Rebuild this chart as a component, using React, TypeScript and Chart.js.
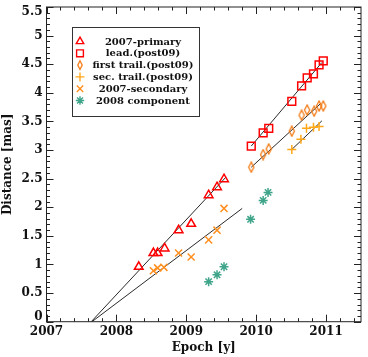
import React, { useEffect, useRef } from 'react';
import { Chart, registerables } from 'chart.js';
import { drawPoint } from 'chart.js/helpers';

Chart.register(...registerables);

const FONT = '"DejaVu Serif", serif';

// ---- data ----
const primaryEpoch = [2008.32, 2008.53, 2008.59, 2008.69, 2008.89, 2009.07, 2009.32, 2009.44, 2009.54];
const primaryDist = [0.96, 1.2, 1.2, 1.28, 1.6, 1.71, 2.21, 2.35, 2.49];

const leadEpoch = [2009.93, 2010.1, 2010.18, 2010.51, 2010.65, 2010.73, 2010.82, 2010.9, 2010.96];
const leadDist = [3.07, 3.3, 3.38, 3.85, 4.12, 4.26, 4.33, 4.49, 4.56];

const firstTrailEpoch = [2009.93, 2010.1, 2010.18, 2010.51, 2010.65, 2010.73, 2010.83, 2010.9, 2010.96];
const firstTrailDist = [2.7, 2.92, 3.02, 3.33, 3.61, 3.7, 3.68, 3.77, 3.77];

const secTrailEpoch = [2010.51, 2010.64, 2010.72, 2010.82, 2010.9];
const secTrailDist = [3.01, 3.19, 3.38, 3.4, 3.41];

const secondaryEpoch = [2008.53, 2008.59, 2008.68, 2008.89, 2009.07, 2009.32, 2009.44, 2009.54];
const secondaryDist = [0.89, 0.94, 0.95, 1.2, 1.13, 1.43, 1.6, 1.98];

const comp2008Epoch = [2009.32, 2009.44, 2009.54, 2009.92, 2010.1, 2010.17];
const comp2008Dist = [0.7, 0.82, 0.96, 1.79, 2.12, 2.26];

// linear fits (end points)
const fitPrimaryEpoch = [2007.64, 2009.57];
const fitPrimaryDist = [0, 2.53];
const fitSecondaryEpoch = [2007.65, 2009.8];
const fitSecondaryDist = [0, 1.98];
const fitLeadEpoch = [2009.93, 2010.94];
const fitLeadDist = [3.07, 4.53];
const fitFirstEpoch = [2009.93, 2010.92];
const fitFirstDist = [2.7, 3.81];
const fitSecEpoch = [2010.51, 2010.94];
const fitSecDist = [3.01, 3.51];

const xTickValues = [2007, 2008, 2009, 2010, 2011];
const yTickValues = [0, 0.5, 1, 1.5, 2, 2.5, 3, 3.5, 4, 4.5, 5, 5.5];

const seriesLabels = [
  '2007-primary',
  'lead.(post09)',
  'first trail.(post09)',
  'sec. trail.(post09)',
  '2007-secondary',
  '2008 component',
];

const RED = '#ff0000';
const ORANGE_D = '#f37a13';
const ORANGE_P = '#ffa71a';
const ORANGE_X = '#ff8f1f';
const GREEN = '#3fa58a';
const FIT = '#2a2a2a';

const pts = (xs: number[], ys: number[]) => xs.map((v, i) => ({ x: v, y: ys[i] }));

function makeDiamond(scale: number): HTMLCanvasElement {
  const c = document.createElement('canvas');
  c.width = 8;
  c.height = 12;
  const g = c.getContext('2d')!;
  g.strokeStyle = ORANGE_D;
  g.lineWidth = 1.3;
  g.beginPath();
  g.moveTo(4, 6 - 5 * scale);
  g.lineTo(4 + 2.6 * scale, 6);
  g.lineTo(4, 6 + 5 * scale);
  g.lineTo(4 - 2.6 * scale, 6);
  g.closePath();
  g.stroke();
  return c;
}

export default function App() {
  const ref = useRef<HTMLCanvasElement | null>(null);

  useEffect(() => {
    if (!ref.current) return;
    const diamond = makeDiamond(1);
    const diamondSmall = makeDiamond(0.85);

    const markerDefs = [
      { style: 'triangle', color: RED, radius: 5, legendStyle: 'triangle', legendRadius: 4.3 },
      { style: 'rect', color: RED, radius: 5.5, legendStyle: 'rect', legendRadius: 4.8 },
      { style: diamond, color: ORANGE_D, radius: 5, legendStyle: diamondSmall, legendRadius: 4.5 },
      { style: 'cross', color: ORANGE_P, radius: 4.5, legendStyle: 'cross', legendRadius: 4.5 },
      { style: 'crossRot', color: ORANGE_X, radius: 5, legendStyle: 'crossRot', legendRadius: 4.5 },
      { style: 'star', color: GREEN, radius: 4.5, legendStyle: 'star', legendRadius: 4.2 },
    ];
    const seriesData = [
      pts(primaryEpoch, primaryDist),
      pts(leadEpoch, leadDist),
      pts(firstTrailEpoch, firstTrailDist),
      pts(secTrailEpoch, secTrailDist),
      pts(secondaryEpoch, secondaryDist),
      pts(comp2008Epoch, comp2008Dist),
    ];

    const markerSets = seriesLabels.map((label, i) => ({
      label,
      data: seriesData[i],
      pointStyle: markerDefs[i].style as any,
      pointRadius: markerDefs[i].radius,
      pointBorderColor: markerDefs[i].color,
      pointBackgroundColor: 'rgba(0,0,0,0)',
      pointBorderWidth: 1.5,
      borderColor: markerDefs[i].color,
      showLine: false,
      order: 1,
    }));

    const fits = [
      pts(fitPrimaryEpoch, fitPrimaryDist),
      pts(fitSecondaryEpoch, fitSecondaryDist),
      pts(fitLeadEpoch, fitLeadDist),
      pts(fitFirstEpoch, fitFirstDist),
      pts(fitSecEpoch, fitSecDist),
    ].map((d, i) => ({
      label: 'fit' + i,
      data: d,
      showLine: true,
      borderColor: FIT,
      borderWidth: 1,
      pointRadius: 0,
      order: 2,
    }));

    const framePlugin = {
      id: 'frame',
      afterDraw(chart: any) {
        const { ctx, chartArea } = chart;
        const { left, right, top, bottom } = chartArea;
        const xs = chart.scales.x;
        const ys = chart.scales.y;
        ctx.save();
        ctx.strokeStyle = '#222';
        ctx.lineWidth = 1;
        ctx.strokeRect(left, top, right - left, bottom - top);
        ctx.beginPath();
        for (let i = 0; i <= 22; i++) {
          const v = 2007 + i * 0.2;
          const px = Math.round(xs.getPixelForValue(v)) + 0.5;
          const len = i % 5 === 0 ? 7 : 3.5;
          ctx.moveTo(px, bottom);
          ctx.lineTo(px, bottom - len);
          ctx.moveTo(px, top);
          ctx.lineTo(px, top + len);
        }
        for (let i = 0; i <= 55; i++) {
          const v = i * 0.1;
          const py = Math.round(ys.getPixelForValue(v)) + 0.5;
          const len = i % 5 === 0 ? 7 : 3.5;
          ctx.moveTo(left, py);
          ctx.lineTo(left + len, py);
          ctx.moveTo(right, py);
          ctx.lineTo(right - len, py);
        }
        ctx.stroke();

        // tick labels
        ctx.fillStyle = '#111';
        ctx.font = 'bold 12px ' + FONT;
        ctx.textBaseline = 'middle';
        ctx.textAlign = 'center';
        xTickValues.forEach((v) => {
          ctx.fillText(String(v), xs.getPixelForValue(v), 331.7);
        });
        ctx.textAlign = 'right';
        const h = 10;
        yTickValues.forEach((v) => {
          let py = ys.getPixelForValue(v);
          py = Math.max(top + h / 2, Math.min(bottom - h / 2, py));
          ctx.fillText(String(v), 42.5, py);
        });

        // legend
        const lx = 72.5, ly = 27.5, lw = 127, lh = 89;
        ctx.strokeStyle = '#333';
        ctx.lineWidth = 1;
        ctx.strokeRect(lx, ly, lw, lh);
        ctx.font = 'bold 10px ' + FONT;
        ctx.textAlign = 'center';
        seriesLabels.forEach((label, i) => {
          const y = 41.5 + i * 11.8;
          const m = markerDefs[i];
          ctx.save();
          ctx.strokeStyle = m.color;
          ctx.fillStyle = 'rgba(0,0,0,0)';
          ctx.lineWidth = 1.4;
          drawPoint(ctx, { pointStyle: m.legendStyle as any, radius: m.legendRadius, rotation: 0, borderWidth: 1.4 }, 80, y);
          ctx.restore();
          ctx.fillStyle = '#111';
          ctx.fillText(label, 143, y + 0.5);
        });
        ctx.restore();
      },
    };

    const chart = new Chart(ref.current, {
      type: 'scatter',
      data: { datasets: [...markerSets, ...fits] as any },
      options: {
        animation: false,
        responsive: false,
        devicePixelRatio: 1,
        layout: { padding: { top: 3, right: 1.5, bottom: 0, left: 0 } },
        plugins: { legend: { display: false }, tooltip: { enabled: false } },
        scales: {
          x: {
            type: 'linear',
            min: 2007,
            max: 2011.5,
            grid: { display: false, drawTicks: false },
            border: { display: false },
            ticks: { display: false },
            title: {
              display: true,
              text: 'Epoch [y]',
              color: '#111',
              font: { family: FONT, size: 12, weight: 'bold' },
              padding: { top: 0, bottom: 1.5 },
            },
            afterFit: (s: any) => {
              s.height = 35.3;
            },
          },
          y: {
            type: 'linear',
            min: 0,
            max: 5.5,
            grid: { display: false, drawTicks: false },
            border: { display: false },
            ticks: { display: false },
            title: {
              display: true,
              text: 'Distance [mas]',
              color: '#111',
              font: { family: FONT, size: 12, weight: 'bold' },
              padding: { top: 1, bottom: 0 },
            },
            afterFit: (s: any) => {
              s.width = 46.5;
            },
          },
        },
      },
      plugins: [framePlugin],
    });
    return () => chart.destroy();
  }, []);

  return (
    <div style={{ position: 'fixed', left: 0, top: 0, width: 368, height: 357, background: '#fff' }}>
      <canvas ref={ref} width={368} height={357} style={{ display: 'block' }} />
    </div>
  );
}
